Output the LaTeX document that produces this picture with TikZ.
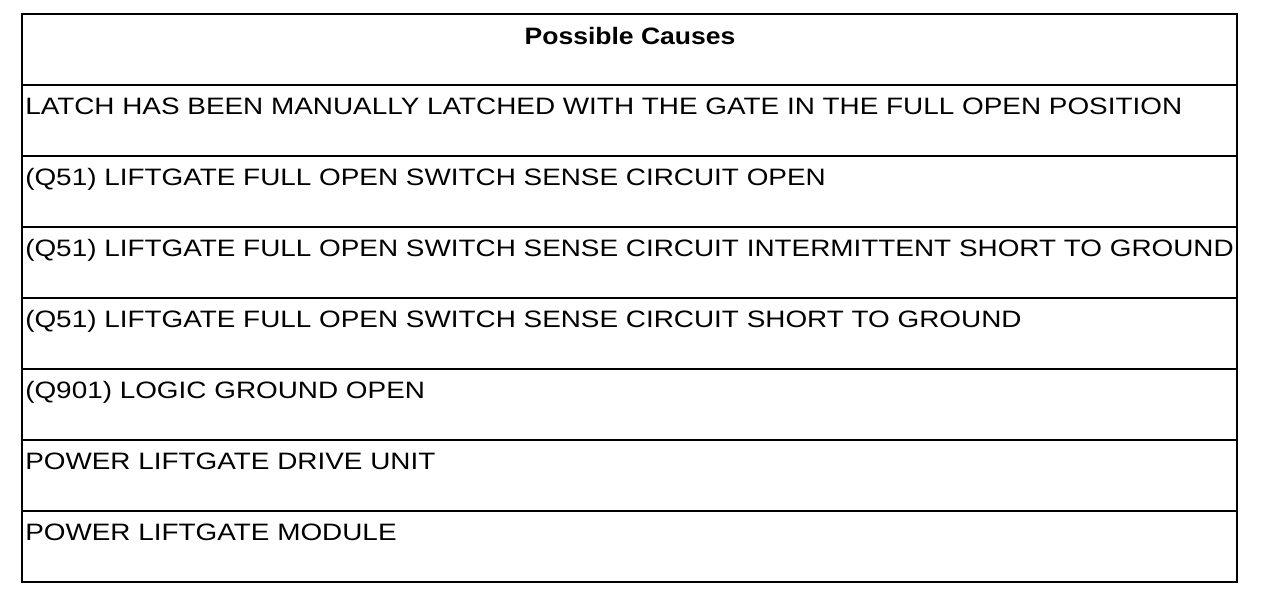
\documentclass[tikz,border=0pt]{standalone}
\usepackage{fontspec}
\setmainfont{Liberation Sans}
\newfontfamily\rowfont[FakeStretch=1.175]{Liberation Sans}
\newfontfamily\headfont[FakeStretch=1.117]{Liberation Sans Bold}
\begin{document}
\begin{tikzpicture}[x=0.75pt,y=-0.75pt,
  cell/.style={anchor=base west,inner sep=0pt,font=\rowfont\fontsize{17.8pt}{20pt}\selectfont},
  head/.style={anchor=base,inner sep=0pt,font=\headfont\fontsize{17.8pt}{20pt}\selectfont},
  grid/.style={line width=1.9pt,black}]
\useasboundingbox (0,0) rectangle (1264,600);
\fill[white] (0,0) rectangle (1264,600);
\draw[grid] (22,14) rectangle (1237,582);
\foreach \i in {1,...,7} {
  \draw[grid] (22,{14+71*\i}) -- (1237,{14+71*\i});
}
\node[head] (h) at (630,44) {Possible Causes};
\node[cell] (r1) at (25,114) {LATCH HAS BEEN MANUALLY LATCHED WITH THE GATE IN THE FULL OPEN POSITION};
\node[cell] (r2) at (25,185) {(Q51) LIFTGATE FULL OPEN SWITCH SENSE CIRCUIT OPEN};
\node[cell] (r3) at (25,256) {(Q51) LIFTGATE FULL OPEN SWITCH SENSE CIRCUIT INTERMITTENT SHORT TO GROUND};
\node[cell] (r4) at (25,327) {(Q51) LIFTGATE FULL OPEN SWITCH SENSE CIRCUIT SHORT TO GROUND};
\node[cell] (r5) at (25,398) {(Q901) LOGIC GROUND OPEN};
\node[cell] (r6) at (25,469) {POWER LIFTGATE DRIVE UNIT};
\node[cell] (r7) at (25,540) {POWER LIFTGATE MODULE};
\end{tikzpicture}
\end{document}
